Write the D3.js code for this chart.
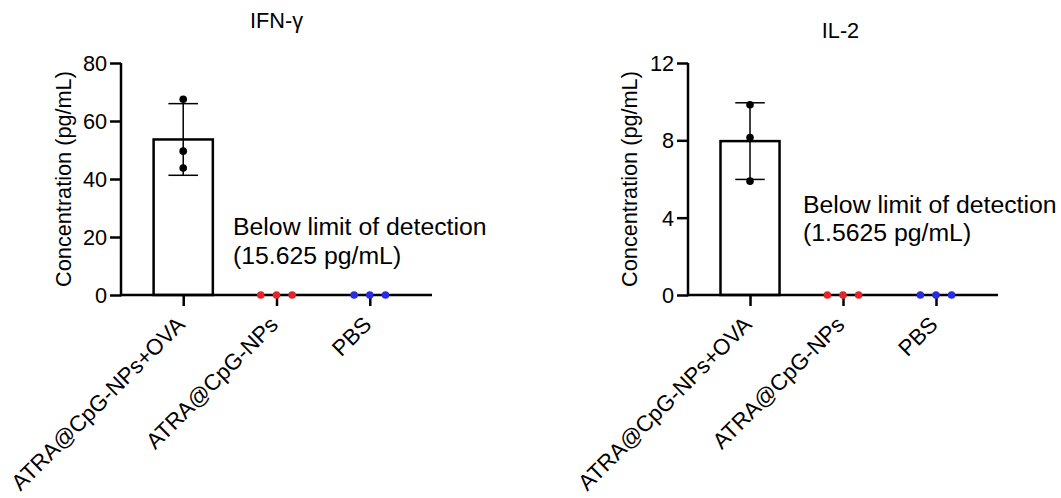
<!DOCTYPE html>
<html>
<head>
<meta charset="utf-8">
<script src="https://cdn.jsdelivr.net/npm/d3@7"></script>
<style>
  html, body { margin: 0; padding: 0; background: #fff; }
  svg text { font-family: "Liberation Sans", Arial, sans-serif; fill: #000; }
</style>
</head>
<body>
<svg id="chart" width="1061" height="498"></svg>
<script>
// ---- data ----
const categories = ["ATRA@CpG-NPs+OVA", "ATRA@CpG-NPs", "PBS"];
const titles = ["IFN-γ", "IL-2"];
const ifnOvaValues = [67.5, 49.6, 43.8];
const il2OvaValues = [9.84, 8.15, 5.89];
const npsValues = [0, 0, 0];
const pbsValues = [0, 0, 0];
const ifnTicks = [0, 20, 40, 60, 80];
const il2Ticks = [0, 4, 8, 12];
const yLabel = "Concentration (pg/mL)";
const limitLine1 = "Below limit of detection";
const ifnLimitLine2 = "(15.625 pg/mL)";
const il2LimitLine2 = "(1.5625 pg/mL)";
const groupColors = ["#000000", "#e3262c", "#2b2be3"];

const svg = d3.select("#chart");
const FS = "21.7px";

function panel(opts) {
  const g = svg.append("g");
  const x = d3.scalePoint().domain(categories).range([opts.x0, opts.x1]).padding(0.667);
  const y = d3.scaleLinear().domain([0, opts.ticks[opts.ticks.length - 1]]).range([295, 63]);
  const step = x.step();
  const barW = step * 0.635;
  const groups = [opts.ova, npsValues, pbsValues];

  // title
  g.append("text").attr("x", opts.titleX).attr("y", opts.titleY)
    .attr("text-anchor", "middle").style("font-size", FS).text(opts.title);

  // bar for first group (mean) + SD error bar
  const vals = groups[0];
  const mean = d3.mean(vals), sd = d3.deviation(vals);
  const cx = x(categories[0]);
  g.append("rect")
    .attr("x", cx - barW / 2).attr("y", y(mean))
    .attr("width", barW).attr("height", y(0) - y(mean))
    .attr("fill", "#fff").attr("stroke", "#000").attr("stroke-width", 2.5);
  const capW = barW * 0.5;
  g.append("line").attr("x1", cx).attr("x2", cx).attr("y1", y(mean + sd)).attr("y2", y(mean - sd))
    .attr("stroke", "#000").attr("stroke-width", 1.5);
  [mean + sd, mean - sd].forEach(v => {
    g.append("line").attr("x1", cx - capW / 2).attr("x2", cx + capW / 2)
      .attr("y1", y(v)).attr("y2", y(v)).attr("stroke", "#000").attr("stroke-width", 1.5);
  });

  // axes
  const yAxis = d3.axisLeft(y).tickValues(opts.ticks).tickSize(11).tickPadding(3).tickSizeOuter(0);
  const ya = g.append("g").attr("transform", `translate(${opts.x0},0)`).call(yAxis);
  ya.select(".domain").attr("stroke-width", 2.5).attr("d", `M0,${y.range()[0] + 1.25}V${y.range()[1]}`);
  ya.selectAll(".tick line").attr("stroke-width", 2.5);
  ya.selectAll(".tick text").style("font-size", FS).attr("dy", "0.35em")
    .style("font-family", '"Liberation Sans", Arial, sans-serif');

  const xAxis = d3.axisBottom(x).tickSize(11).tickSizeOuter(0).tickFormat("");
  const xa = g.append("g").attr("transform", `translate(0,${y(0)})`).call(xAxis);
  xa.select(".domain").attr("stroke-width", 2.5).attr("d", `M${opts.x0},0H${opts.x1}`);
  xa.selectAll(".tick line").attr("stroke-width", 2.5);

  // category labels
  g.selectAll(".cat").data(categories).join("text")
    .attr("class", "cat")
    .attr("transform", d => `translate(${x(d) + 3},${y(0) + 31}) rotate(-45)`)
    .attr("text-anchor", "end").style("font-size", "22.3px").text(d => d);

  // dots (first group stacked at centre, others spread)
  groups.forEach((arr, gi) => {
    const c = x(categories[gi]);
    g.selectAll(null).data(arr).join("circle")
      .attr("cx", (d, i) => gi === 0 ? c : c + (i - 1) * step * 0.168)
      .attr("cy", d => y(d))
      .attr("r", 3.8)
      .attr("fill", groupColors[gi]);
  });

  // y label
  g.append("text")
    .attr("transform", `translate(${opts.labelX},${(y.range()[0] + y.range()[1]) / 2}) rotate(-90)`)
    .attr("text-anchor", "middle").style("font-size", FS).text(yLabel);

  // annotation
  const ann = g.append("text").attr("x", opts.annX).attr("y", opts.annY).style("font-size", "24.8px");
  ann.append("tspan").attr("x", opts.annX).text(limitLine1);
  ann.append("tspan").attr("x", opts.annX).attr("dy", 28.5).text(opts.limit2);
}

panel({ x0: 121, x1: 432, ticks: ifnTicks, ova: ifnOvaValues, title: titles[0],
        titleX: 276.5, titleY: 28, labelX: 71, annX: 233, annY: 235, limit2: ifnLimitLine2 });
panel({ x0: 688, x1: 998, ticks: il2Ticks, ova: il2OvaValues, title: titles[1],
        titleX: 840.5, titleY: 38, labelX: 637, annX: 803, annY: 212.5, limit2: il2LimitLine2 });
</script>
</body>
</html>
